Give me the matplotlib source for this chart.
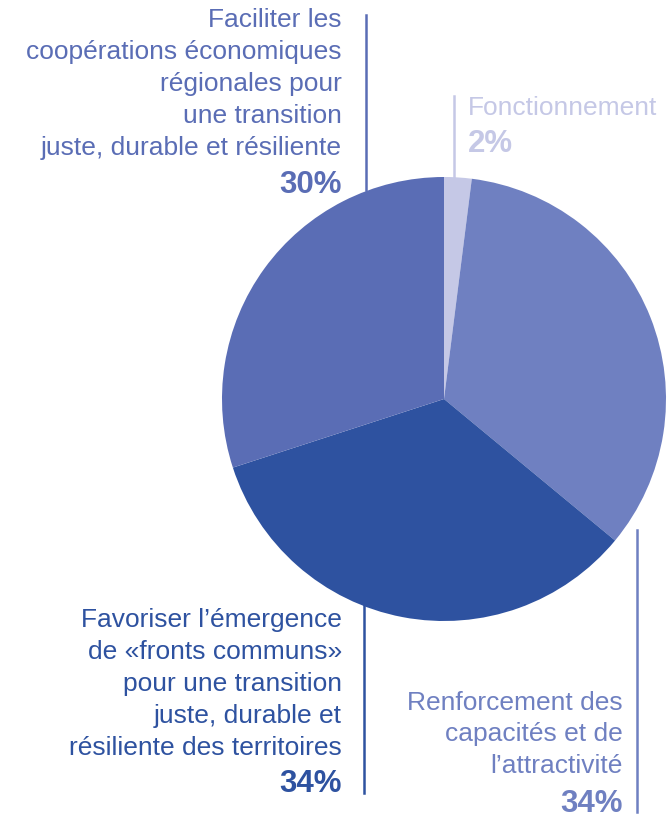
import matplotlib
matplotlib.use("Agg")
import matplotlib.pyplot as plt

plt.rcParams['font.family'] = ['Liberation Sans', 'DejaVu Sans']

# data (clockwise from top)
labels = [
    ["Fonctionnement"],
    ["Renforcement des", "capacités et de", "l\u2019attractivité"],
    ["Favoriser l\u2019émergence", "de «fronts communs»", "pour une transition",
     "juste, durable et", "résiliente des territoires"],
    ["Faciliter les", "coopérations économiques", "régionales pour",
     "une transition", "juste, durable et résiliente"],
]
shares = [2, 34, 34, 30]
colors = ["#c5c8e6", "#6f80c1", "#2e52a0", "#5a6db5"]

W, H = 667, 822
fig = plt.figure(figsize=(W / 100, H / 100), dpi=100)
ax = fig.add_axes([0, 0, 1, 1])

# y axis runs downward, so angles are mirrored
ax.pie(shares, colors=colors, startangle=-90, counterclock=True,
       center=(444, 399), radius=222, frame=True,
       wedgeprops=dict(linewidth=0))
ax.set_xlim(0, W)
ax.set_ylim(H, 0)
ax.set_aspect("equal")
ax.axis("off")


def label_block(lines, pct, x, y0, ha, color, step=32, gap=38):
    for i, s in enumerate(lines):
        ax.text(x, y0 + i * step, s, ha=ha, va="baseline",
                fontsize=19, color=color)
    ax.text(x, y0 + (len(lines) - 1) * step + gap, f"{pct}%", ha=ha,
            va="baseline", fontsize=22.5, fontweight="bold", color=color)


# Fonctionnement
ax.plot([454, 454], [96, 178], color=colors[0], lw=1.8)
label_block(labels[0], shares[0], 468, 115, "left", colors[0], gap=37)

# Renforcement
ax.plot([637, 637], [530, 812], color=colors[1], lw=1.8)
label_block(labels[1], shares[1], 623, 710, "right", colors[1], step=31.5, gap=39)

# Favoriser
ax.plot([364, 364], [603, 793], color=colors[2], lw=1.8)
label_block(labels[2], shares[2], 342, 627, "right", colors[2], gap=37)

# Faciliter
ax.plot([366, 366], [15, 190], color=colors[3], lw=1.8)
label_block(labels[3], shares[3], 342, 27, "right", colors[3], gap=38)

fig.savefig("out.png", dpi=100)
